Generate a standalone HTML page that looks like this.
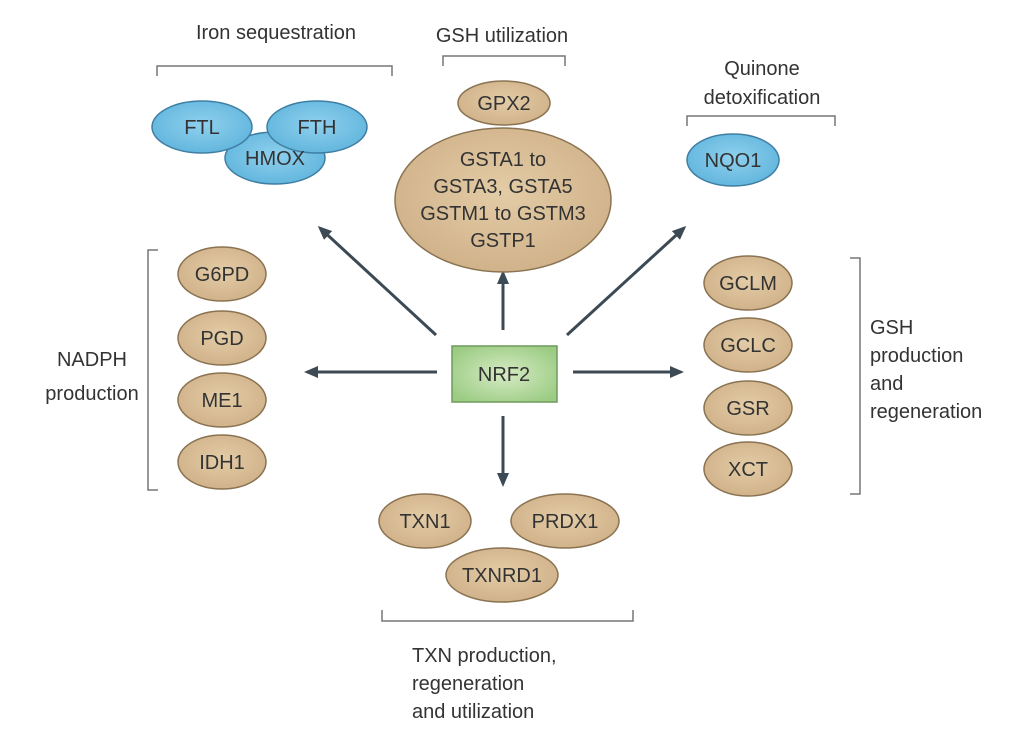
<!DOCTYPE html>
<html><head><style>body{margin:0;background:#fff}svg{display:block}text{font-family:"Liberation Sans",sans-serif;fill:#333}</style></head><body>
<svg width="1024" height="732" viewBox="0 0 1024 732" xmlns="http://www.w3.org/2000/svg">
<defs>
<radialGradient id="t" cx="50%" cy="45%" r="60%"><stop offset="0" stop-color="#e3cca6"/><stop offset="1" stop-color="#cfb088"/></radialGradient>
<radialGradient id="b" cx="50%" cy="45%" r="60%"><stop offset="0" stop-color="#8fd0ee"/><stop offset="1" stop-color="#5fb4dc"/></radialGradient>
<radialGradient id="g" cx="50%" cy="50%" r="60%"><stop offset="0" stop-color="#d6ebc4"/><stop offset="1" stop-color="#9ccc84"/></radialGradient>
<marker id="a" markerWidth="14" markerHeight="12" refX="11" refY="6" orient="auto" markerUnits="userSpaceOnUse"><path d="M0,0 L14,6 L0,12 Z" fill="#3c4a55"/></marker>
</defs>
<g fill="none" stroke="#777" stroke-width="1.5">
<path d="M157,76 V66 H392 V76"/>
<path d="M443,66 V56 H565 V66"/>
<path d="M687,126 V116 H835 V126"/>
<path d="M158,250 H148 V490 H158"/>
<path d="M850,258 H860 V494 H850"/>
<path d="M382,610 V621 H633 V610"/>
</g>
<g stroke="#3c4a55" stroke-width="3" marker-end="url(#a)">
<line x1="436" y1="335" x2="320" y2="228"/>
<line x1="503" y1="330" x2="503" y2="273"/>
<line x1="567" y1="335" x2="684" y2="228"/>
<line x1="437" y1="372" x2="307" y2="372"/>
<line x1="573" y1="372" x2="681" y2="372"/>
<line x1="503" y1="416" x2="503" y2="484"/>
</g>
<g stroke="#3f7ea3" stroke-width="1.5" fill="url(#b)">
<ellipse cx="275" cy="158" rx="50" ry="26"/>
<ellipse cx="202" cy="127" rx="50" ry="26"/>
<ellipse cx="317" cy="127" rx="50" ry="26"/>
<ellipse cx="733" cy="160" rx="46" ry="26"/>
</g>
<g stroke="#8a7352" stroke-width="1.5" fill="url(#t)">
<ellipse cx="504" cy="103" rx="46" ry="22"/>
<ellipse cx="503" cy="200" rx="108" ry="72"/>
<ellipse cx="222" cy="274" rx="44" ry="27"/>
<ellipse cx="222" cy="338" rx="44" ry="27"/>
<ellipse cx="222" cy="400" rx="44" ry="27"/>
<ellipse cx="222" cy="462" rx="44" ry="27"/>
<ellipse cx="748" cy="283" rx="44" ry="27"/>
<ellipse cx="748" cy="345" rx="44" ry="27"/>
<ellipse cx="748" cy="408" rx="44" ry="27"/>
<ellipse cx="748" cy="469" rx="44" ry="27"/>
<ellipse cx="502" cy="575" rx="56" ry="27"/>
<ellipse cx="425" cy="521" rx="46" ry="27"/>
<ellipse cx="565" cy="521" rx="54" ry="27"/>
</g>
<rect x="452" y="346" width="105" height="56" fill="url(#g)" stroke="#6f9a5c" stroke-width="1.5"/>
<g font-size="20" text-anchor="middle">
<text x="202" y="134">FTL</text><text x="317" y="134">FTH</text><text x="275" y="165">HMOX</text>
<text x="733" y="167">NQO1</text><text x="504" y="110">GPX2</text>
<text x="503" y="166">GSTA1 to</text><text x="503" y="193">GSTA3, GSTA5</text><text x="503" y="220">GSTM1 to GSTM3</text><text x="503" y="247">GSTP1</text>
<text x="222" y="281">G6PD</text><text x="222" y="345">PGD</text><text x="222" y="407">ME1</text><text x="222" y="469">IDH1</text>
<text x="748" y="290">GCLM</text><text x="748" y="352">GCLC</text><text x="748" y="415">GSR</text><text x="748" y="476">XCT</text>
<text x="425" y="528">TXN1</text><text x="565" y="528">PRDX1</text><text x="502" y="582">TXNRD1</text>
<text x="504" y="381">NRF2</text>
<text x="276" y="39">Iron sequestration</text>
<text x="502" y="42">GSH utilization</text>
<text x="762" y="75">Quinone</text><text x="762" y="104">detoxification</text>
<text x="92" y="366">NADPH</text><text x="92" y="400">production</text>
</g>
<g font-size="20">
<text x="870" y="334">GSH</text><text x="870" y="362">production</text><text x="870" y="390">and</text><text x="870" y="418">regeneration</text>
<text x="412" y="662">TXN production,</text><text x="412" y="690">regeneration</text><text x="412" y="718">and utilization</text>
</g>
</svg>
</body></html>
